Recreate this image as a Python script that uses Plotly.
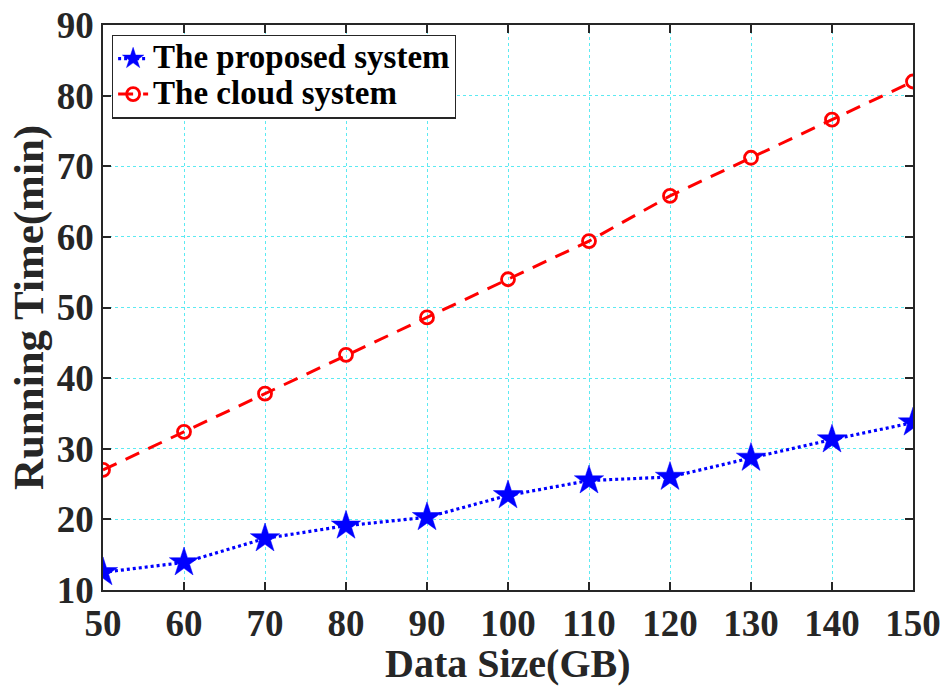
import plotly.graph_objects as go

# Data size (GB) and running time (min) for each system
data_size = [50, 60, 70, 80, 90, 100, 110, 120, 130, 140, 150]
proposed_time = [12.5, 13.9, 17.3, 19.1, 20.3, 23.4, 25.5, 26.0, 28.7, 31.3, 33.7]
cloud_time = [27.0, 32.4, 37.8, 43.3, 48.6, 54.0, 59.4, 65.8, 71.2, 76.6, 82.0]

x_ticks = list(range(50, 151, 10))
y_ticks = list(range(10, 91, 10))

FONT = "Liberation Serif"
AXIS_COLOR = "#262626"
GRID_COLOR = "#5CEAF2"


def legend_label(text):
    # larger glyphs than the legend's base size keep the rows compact
    return f'<span style="font-size:33px"><b>{text}</b></span>'


fig = go.Figure()

fig.add_trace(go.Scatter(
    x=data_size, y=proposed_time, name=legend_label("The proposed system"),
    mode="lines+markers",
    line=dict(color="#0000FF", width=3.2, dash="3px,3px"),
    marker=dict(symbol="star", size=22, color="#0000FF",
                line=dict(color="#0000FF", width=0.5)),
))

fig.add_trace(go.Scatter(
    x=data_size, y=cloud_time, name=legend_label("The cloud system"),
    mode="lines+markers",
    line=dict(color="#FF0000", width=3, dash="15px,10px"),
    marker=dict(symbol="circle-open", size=13, color="#FF0000",
                line=dict(color="#FF0000", width=2.8)),
))

axis_common = dict(
    automargin=False,
    showline=True, linecolor=AXIS_COLOR, linewidth=1.5, mirror="ticks",
    ticks="inside", ticklen=8, tickwidth=1.5, tickcolor=AXIS_COLOR,
    showgrid=True, gridcolor=GRID_COLOR, gridwidth=1, griddash="dot",
    zeroline=False,
    tickfont=dict(family=FONT, size=37, color=AXIS_COLOR),
)

fig.update_xaxes(
    range=[50, 150], tickvals=x_ticks,
    ticktext=[f"<b>{v}</b>" for v in x_ticks],
    **axis_common,
)
fig.update_yaxes(
    range=[10, 90], tickvals=y_ticks,
    ticktext=[f"<b>{v}</b>" for v in y_ticks],
    title=dict(text="<b>Running Time(min)</b>", standoff=0,
               font=dict(family=FONT, size=43, color=AXIS_COLOR)),
    **axis_common,
)

# x-axis title placed just under the tick labels
fig.add_annotation(
    text="<b>Data Size(GB)</b>", xref="paper", yref="paper",
    x=0.5, y=-0.086, xanchor="center", yanchor="top", showarrow=False,
    font=dict(family=FONT, size=40, color=AXIS_COLOR),
)

fig.update_layout(
    width=945, height=691,
    margin=dict(l=103, r=32, t=25, b=101, autoexpand=False),
    paper_bgcolor="white", plot_bgcolor="white",
    showlegend=True,
    legend=dict(
        x=0.011, y=0.983, xanchor="left", yanchor="top",
        bgcolor="white", bordercolor=AXIS_COLOR, borderwidth=1.2,
        font=dict(family=FONT, size=25, color="black"),
        itemwidth=30, tracegroupgap=0,
    ),
)

fig.write_html("out.html")
